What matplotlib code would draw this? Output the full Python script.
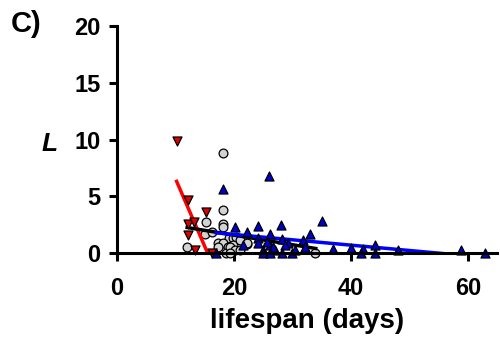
import numpy as np
import matplotlib
matplotlib.use("Agg")
import matplotlib.pyplot as plt

plt.rcParams["font.family"] = ["Liberation Sans", "DejaVu Sans"]
plt.rcParams["font.weight"] = "bold"

# red down-triangles
red_x = [10.2, 12.2, 15.2, 12.2, 13.1, 12.2, 13.4, 16.2]
red_y = [9.9, 4.7, 3.6, 2.6, 2.7, 1.6, 0.3, 0.05]

# grey circles
grey_x = [18.1, 18.1, 18.1, 18.1, 15.2, 15.0, 16.2, 12.0, 17.3, 19.2, 19.9, 20.4,
          18.2, 19.0, 19.9, 18.7, 21.0, 22.3, 19.3, 20.2, 21.0, 19.3, 33.9, 17.3, 22.2]
grey_y = [8.8, 3.8, 2.6, 2.3, 2.75, 1.7, 1.9, 0.5, 0.85, 1.3, 1.35, 1.4,
          0.9, 0.5, 0.7, 0.0, 1.15, 0.8, 0.5, 0.3, 0.25, 0.0, 0.0, 0.5, 0.85]

# blue up-triangles
blue_x = [17.0, 18.2, 20.2, 22.2, 24.2, 26.0, 28.0, 35.0, 26.2, 33.0, 28.2, 24.2,
          31.8, 29.3, 26.2, 24.2, 28.7, 25.6, 32.1, 37.0, 25.0, 27.0, 26.7, 25.0,
          26.2, 28.2, 30.0, 40.1, 42.0, 44.1, 48.1, 41.8, 44.1, 58.9, 62.9, 21.5, 30.5]
blue_y = [0.0, 5.6, 2.3, 1.9, 2.4, 6.8, 2.5, 2.8, 1.7, 1.7, 1.2, 1.3,
          1.15, 0.9, 0.75, 0.85, 0.7, 1.0, 0.5, 0.35, 0.3, 0.26, 0.5, 0.0,
          0.0, 0.0, 0.0, 0.45, 0.4, 0.7, 0.26, 0.0, 0.0, 0.3, 0.0, 0.7, 0.3]

# regression lines (x range, intercept, slope)
red_fit = ([10.2, 16.2], 18.45, -1.19)
grey_fit = ([12.0, 34.0], 3.26, -0.084)
blue_fit = ([17.0, 63.0], 2.58, -0.047)

fig = plt.figure(figsize=(5.0, 3.37), dpi=100)
ax = fig.add_axes([0.234, 0.249, 0.76, 0.674])

ax.scatter(grey_x, grey_y, s=40, marker="o", facecolor="#d3d3d3",
           edgecolor="black", linewidth=0.9, zorder=3, clip_on=False)

for (xr, b, m), c in [(red_fit, "#ff0000"), (grey_fit, "black"), (blue_fit, "#0000ff")]:
    xs = np.array(xr)
    ax.plot(xs, b + m * xs, color=c, lw=2.5, zorder=4)

ax.scatter(red_x, red_y, s=42, marker="v", facecolor="#dd0000",
           edgecolor="black", linewidth=0.9, zorder=5, clip_on=False)
ax.scatter(blue_x, blue_y, s=42, marker="^", facecolor="#0000cc",
           edgecolor="black", linewidth=0.9, zorder=5, clip_on=False)

ax.set_xlim(0, 65)
ax.set_ylim(0, 20)
ax.set_xticks([0, 20, 40, 60])
ax.set_yticks([0, 5, 10, 15, 20])

for side in ["top", "right"]:
    ax.spines[side].set_visible(False)
for side in ["left", "bottom"]:
    ax.spines[side].set_linewidth(2.2)
    ax.spines[side].set_zorder(6)

ax.tick_params(width=2.2, length=6, labelsize=17)
ax.tick_params(axis="y", pad=6)
ax.tick_params(axis="x", pad=11)
for lab in ax.get_xticklabels() + ax.get_yticklabels():
    lab.set_fontweight("bold")

ax.set_xlabel("lifespan (days)", fontsize=20, fontweight="bold", labelpad=6)
fig.text(0.10, 0.574, "L", fontsize=19, fontweight="bold", style="italic",
         ha="center", va="center")
fig.text(0.022, 0.929, "C)", fontsize=21, fontweight="bold", ha="left", va="center")

fig.savefig("out.png", dpi=100)
